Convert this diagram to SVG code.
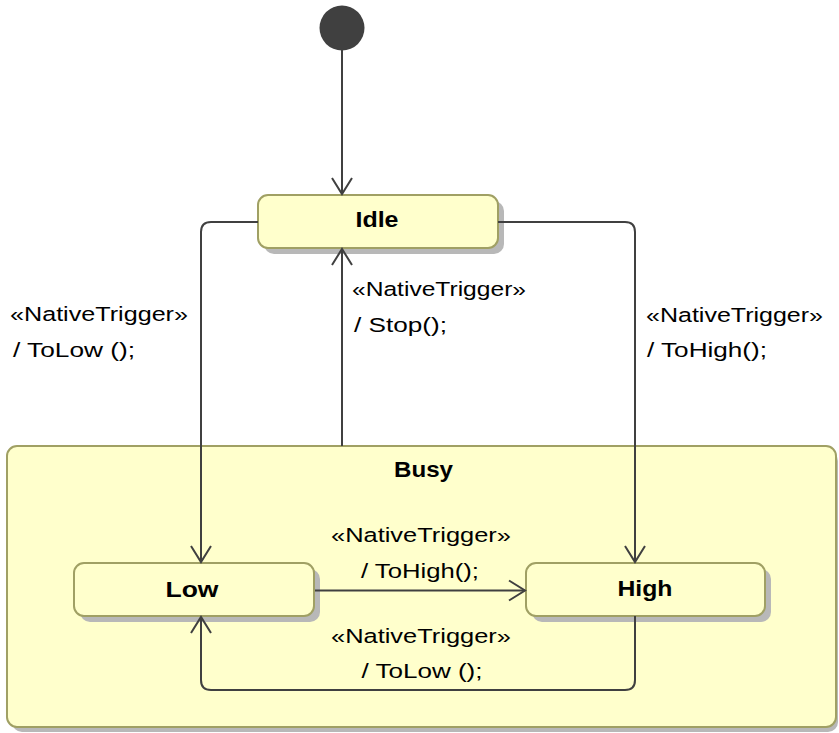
<svg xmlns="http://www.w3.org/2000/svg" width="839" height="733" viewBox="0 0 839 733">
<style>
.shadow{fill:#b8b8b8;stroke:none}
.state{fill:#ffffcc;stroke:#a0a064;stroke-width:2}
.name{font-family:"Liberation Sans",Arial,sans-serif;font-size:22px;font-weight:bold;fill:#000;text-anchor:middle}
.lbl{font-family:"Liberation Sans",Arial,sans-serif;font-size:20.5px;fill:#000}
.mid{text-anchor:middle}
.edge{fill:none;stroke:#404040;stroke-width:2}
</style>
<defs>
<marker id="arr" markerWidth="24" markerHeight="24" viewBox="-20 -12 24 24" refX="0" refY="0" orient="auto" markerUnits="userSpaceOnUse">
<path d="M-16,-10 L0,0 L-16,10" fill="none" stroke="#404040" stroke-width="2"/>
</marker>
</defs>
<rect width="839" height="733" fill="#fff"/>
<g id="Busy">
<rect class="shadow" x="12" y="451" width="826" height="281" rx="10"/>
<rect class="state" x="7" y="446" width="829" height="281" rx="10"/>
<text class="name" x="423.5" y="476.7" textLength="59" lengthAdjust="spacingAndGlyphs">Busy</text>
</g>
<g id="initial">
<circle cx="342" cy="28" r="22.5" fill="#404040"/>
</g>
<g id="Idle">
<rect class="shadow" x="264" y="201" width="240" height="53" rx="10"/>
<rect class="state" x="258" y="195" width="240" height="53" rx="10"/>
<text class="name" x="377" y="226.7" textLength="43" lengthAdjust="spacingAndGlyphs">Idle</text>
</g>
<g id="Low">
<rect class="shadow" x="80" y="569" width="240" height="53" rx="10"/>
<rect class="state" x="74" y="563" width="240" height="53" rx="10"/>
<text class="name" x="192" y="596.5" textLength="53" lengthAdjust="spacingAndGlyphs">Low</text>
</g>
<g id="High">
<rect class="shadow" x="532" y="569" width="239" height="53" rx="10"/>
<rect class="state" x="526" y="563" width="239" height="53" rx="10"/>
<text class="name" x="645" y="596" textLength="55" lengthAdjust="spacingAndGlyphs">High</text>
</g>
<g id="connectors">
<path class="edge" d="M342,50 L342,194" marker-end="url(#arr)"/>
<path class="edge" d="M258,222 L211,222 Q201,222 201,232 L201,562" marker-end="url(#arr)"/>
<path class="edge" d="M498,222 L625,222 Q635,222 635,232 L635,562" marker-end="url(#arr)"/>
<path class="edge" d="M342,446 L342,249" marker-end="url(#arr)"/>
<path class="edge" d="M315,590.5 L525,590.5" marker-end="url(#arr)"/>
<path class="edge" d="M635,616 L635,680 Q635,690 625,690 L211,690 Q201,690 201,680 L201,617" marker-end="url(#arr)"/>
</g>
<g id="labels">
<text class="lbl" x="10" y="321" textLength="178" lengthAdjust="spacingAndGlyphs">«NativeTrigger»</text>
<text class="lbl" x="13" y="356.5" textLength="122" lengthAdjust="spacingAndGlyphs">/ ToLow ();</text>
<text class="lbl" x="352" y="296" textLength="174" lengthAdjust="spacingAndGlyphs">«NativeTrigger»</text>
<text class="lbl" x="354" y="332" textLength="93" lengthAdjust="spacingAndGlyphs">/ Stop();</text>
<text class="lbl" x="646" y="321.5" textLength="177" lengthAdjust="spacingAndGlyphs">«NativeTrigger»</text>
<text class="lbl" x="647" y="356.5" textLength="120" lengthAdjust="spacingAndGlyphs">/ ToHigh();</text>
<text class="lbl mid" x="421" y="541.7" textLength="180" lengthAdjust="spacingAndGlyphs">«NativeTrigger»</text>
<text class="lbl mid" x="420" y="577.7" textLength="118" lengthAdjust="spacingAndGlyphs">/ ToHigh();</text>
<text class="lbl mid" x="421" y="643" textLength="180" lengthAdjust="spacingAndGlyphs">«NativeTrigger»</text>
<text class="lbl mid" x="422" y="678" textLength="121" lengthAdjust="spacingAndGlyphs">/ ToLow ();</text>
</g>
</svg>
